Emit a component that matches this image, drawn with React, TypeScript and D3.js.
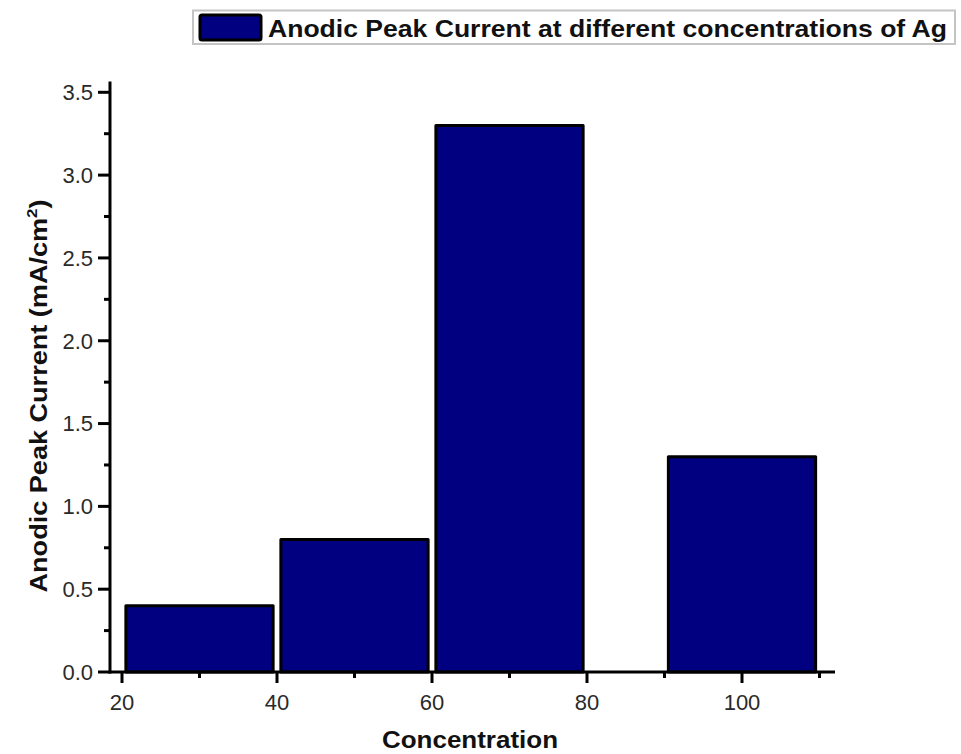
import React from "react";
import * as d3 from "d3";

const concentrations = [30, 50, 70, 100];
const peakCurrent = [0.4, 0.8, 3.3, 1.3];
const xMajorTicks = [20, 40, 60, 80, 100];
const xMinorTicks = [30, 50, 70, 90, 110];
const yMajorTicks = [0, 0.5, 1.0, 1.5, 2.0, 2.5, 3.0, 3.5];
const yMinorTicks = [0.25, 0.75, 1.25, 1.75, 2.25, 2.75, 3.25];
const legendLabel = "Anodic Peak Current at different concentrations of Ag";
const xTitle = "Concentration";
const barWidthUnits = 19;

export default function App() {
  const W = 961, H = 754;
  const x = d3.scaleLinear().domain([20, 110]).range([122, 819.5]);
  const y = d3.scaleLinear().domain([0, 3.5]).range([672, 92.3]);
  const axisLeft = x(18.45);
  const axisRight = x(112);
  const axisTop = y(3.565);
  const font = "'Liberation Sans', Arial, sans-serif";
  const tickColor = "#2a2a2a";
  return (
    <svg width={W} height={H} style={{ position: "absolute", left: 0, top: 0, background: "#fff" }} fontFamily={font}>
      <rect x={0} y={0} width={W} height={H} fill="#fff" />
      {/* legend */}
      <rect x={193} y={10.5} width={762} height={33.5} fill="#fff" stroke="#c4c4c4" strokeWidth={2} />
      <rect x={200} y={15} width={61} height={25} fill="#000080" stroke="#000" strokeWidth={3} rx={2} />
      <text x={268} y={37} fontSize={24} fontWeight="bold" fill="#111" textLength={679} lengthAdjust="spacingAndGlyphs">{legendLabel}</text>

      {/* bars */}
      {concentrations.map((c, i) => (
        <rect key={c}
          x={x(c - barWidthUnits / 2)}
          y={y(peakCurrent[i])}
          width={x(c + barWidthUnits / 2) - x(c - barWidthUnits / 2)}
          height={y(0) - y(peakCurrent[i])}
          fill="#000080" stroke="#000" strokeWidth={3} strokeLinejoin="round" />
      ))}

      {/* axes lines */}
      <line x1={axisLeft} x2={axisLeft} y1={axisTop} y2={y(0) + 1.5} stroke="#000" strokeWidth={3} />
      <line x1={axisLeft - 1.5} x2={axisRight} y1={y(0)} y2={y(0)} stroke="#000" strokeWidth={3} />

      {/* y ticks */}
      {yMajorTicks.map(t => (
        <g key={"ym" + t}>
          <line x1={axisLeft - 12} x2={axisLeft} y1={y(t)} y2={y(t)} stroke="#000" strokeWidth={3} />
          <text x={axisLeft - 17} y={y(t)} dy="0.36em" textAnchor="end" fontSize={22} fill={tickColor}>{d3.format(".1f")(t)}</text>
        </g>
      ))}
      {yMinorTicks.map(t => (
        <line key={"yn" + t} x1={axisLeft - 6} x2={axisLeft} y1={y(t)} y2={y(t)} stroke="#000" strokeWidth={3} />
      ))}

      {/* x ticks */}
      {xMajorTicks.map(t => (
        <g key={"xm" + t}>
          <line x1={x(t)} x2={x(t)} y1={y(0)} y2={y(0) + 11} stroke="#000" strokeWidth={3} />
          <text x={x(t)} y={710} textAnchor="middle" fontSize={22} fill={tickColor}>{t}</text>
        </g>
      ))}
      {xMinorTicks.map(t => (
        <line key={"xn" + t} x1={x(t)} x2={x(t)} y1={y(0)} y2={y(0) + 6} stroke="#000" strokeWidth={3} />
      ))}

      {/* titles */}
      <text x={470} y={748} textAnchor="middle" fontSize={23} fontWeight="bold" fill="#111" textLength={176} lengthAdjust="spacingAndGlyphs">{xTitle}</text>
      <text transform={`translate(47, ${396}) rotate(-90)`} textAnchor="middle" fontSize={24} fontWeight="bold" fill="#111" textLength={393} lengthAdjust="spacingAndGlyphs">
        Anodic Peak Current (mA/cm<tspan dy={-10} fontSize={15}>2</tspan><tspan dy={10}>)</tspan>
      </text>
    </svg>
  );
}
